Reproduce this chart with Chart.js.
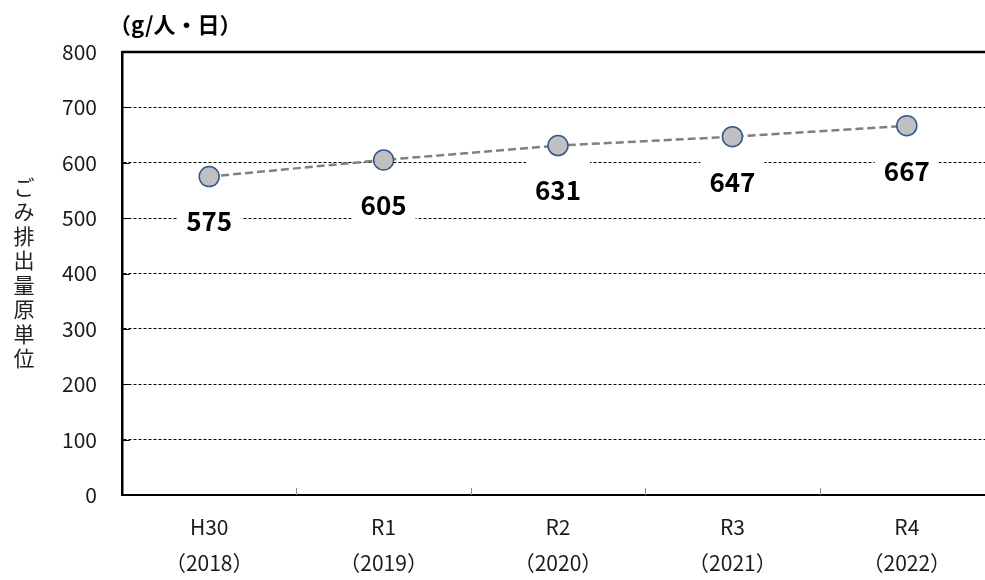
<!DOCTYPE html>
<html><head><meta charset="utf-8">
<script src="https://cdn.jsdelivr.net/npm/chart.js@4"></script>
<style>
html,body{margin:0;padding:0;background:#fff;overflow:hidden;}
#wrap{width:996px;height:580px;position:relative;overflow:hidden;}
canvas{display:block;}
</style></head>
<body><div id="wrap"><canvas id="c" width="996" height="580" style="width:996px;height:580px"></canvas></div>
<script>
const categories = [['H30','（2018）'],['R1','（2019）'],['R2','（2020）'],['R3','（2021）'],['R4','（2022）']];
const values = [575, 605, 631, 647, 667];
const yTicks = [0,100,200,300,400,500,600,700,800];
const unitLabel = '（g/人・日）';
const yTitle = 'ごみ排出量原単位';
const FONT = '"Noto Sans CJK JP", "Noto Sans", sans-serif';

const extras = {
  id: 'extras',
  beforeDatasetsDraw(chart) {
    const ctx = chart.ctx, a = chart.chartArea;
    const ys = chart.scales.y, xs = chart.scales.x;
    ctx.save();
    ctx.strokeStyle = '#000'; ctx.lineWidth = 1;
    yTicks.forEach(v => {
      const p = Math.round(ys.getPixelForValue(v)) + 0.5;
      ctx.beginPath(); ctx.moveTo(a.left, p); ctx.lineTo(a.left + 8, p); ctx.stroke();
    });
    ctx.strokeStyle = '#888';
    for (let i = 0; i < categories.length - 1; i++) {
      const px = Math.round((xs.getPixelForValue(i) + xs.getPixelForValue(i + 1)) / 2) + 0.5;
      ctx.beginPath(); ctx.moveTo(px, a.bottom - 7); ctx.lineTo(px, a.bottom); ctx.stroke();
    }
    ctx.strokeStyle = '#000'; ctx.lineWidth = 2.5;
    ctx.beginPath(); ctx.moveTo(a.left, a.top); ctx.lineTo(a.right, a.top); ctx.stroke();
    ctx.restore();
  },
  afterDatasetsDraw(chart) {
    const ctx = chart.ctx;
    const meta = chart.getDatasetMeta(0);
    ctx.save();
    meta.data.forEach((pt, i) => {
      const cx = pt.x, cy = pt.y + 44;
      ctx.fillStyle = '#fff';
      ctx.fillRect(cx - 32, cy - 28, 64, 56);
      ctx.fillStyle = '#000';
      ctx.font = 'bold 26px ' + FONT;
      ctx.textAlign = 'center'; ctx.textBaseline = 'middle';
      ctx.fillText(String(values[i]), cx, cy + 1);
    });
    ctx.font = 'bold 22px ' + FONT;
    ctx.textAlign = 'left'; ctx.textBaseline = 'middle';
    ctx.fillStyle = '#000';
    ctx.fillText(unitLabel, 109, 25);
    ctx.font = '21px ' + FONT;
    ctx.textAlign = 'center'; ctx.fillStyle = '#222';
    Array.from(yTitle).forEach((ch, i) => { ctx.fillText(ch, 24, 187 + i * 24.5); });
    ctx.restore();
  }
};

new Chart(document.getElementById('c'), {
  type: 'line',
  data: {
    labels: categories,
    datasets: [{
      data: values,
      borderColor: '#808080',
      borderWidth: 2.5,
      borderDash: [8, 4],
      pointRadius: 10,
      pointHoverRadius: 10,
      pointBackgroundColor: '#c0c0c0',
      pointBorderColor: '#2f5a8a',
      pointBorderWidth: 1.5,
      tension: 0,
      fill: false,
      clip: false
    }]
  },
  options: {
    responsive: false,
    maintainAspectRatio: false,
    animation: false,
    events: [],
    layout: { autoPadding: false, padding: { top: 52, right: 2, left: 0, bottom: 0 } },
    plugins: { legend: { display: false }, tooltip: { enabled: false } },
    scales: {
      x: {
        offset: true,
        grid: { display: false, drawTicks: false },
        border: { display: true, color: '#000', width: 2 },
        ticks: { color: '#1a1a1a', padding: 14, font: { family: FONT, size: 21, lineHeight: 1.72 }, maxRotation: 0 },
        afterFit(s) { s.height = 85; s.paddingLeft = 0; s.paddingRight = 0; }
      },
      y: {
        min: 0, max: 800,
        afterBuildTicks(s) { s.ticks = yTicks.map(v => ({ value: v })); },
        grid: { color: '#000', lineWidth: 1, drawTicks: false },
        border: { display: true, color: '#000', width: 2.5, dash: [3, 2] },
        ticks: { color: '#1a1a1a', padding: 25, font: { family: FONT, size: 21 } },
        afterFit(s) { s.width = 122; s.paddingTop = 0; s.paddingBottom = 0; }
      }
    }
  },
  plugins: [extras]
});
</script></body></html>
